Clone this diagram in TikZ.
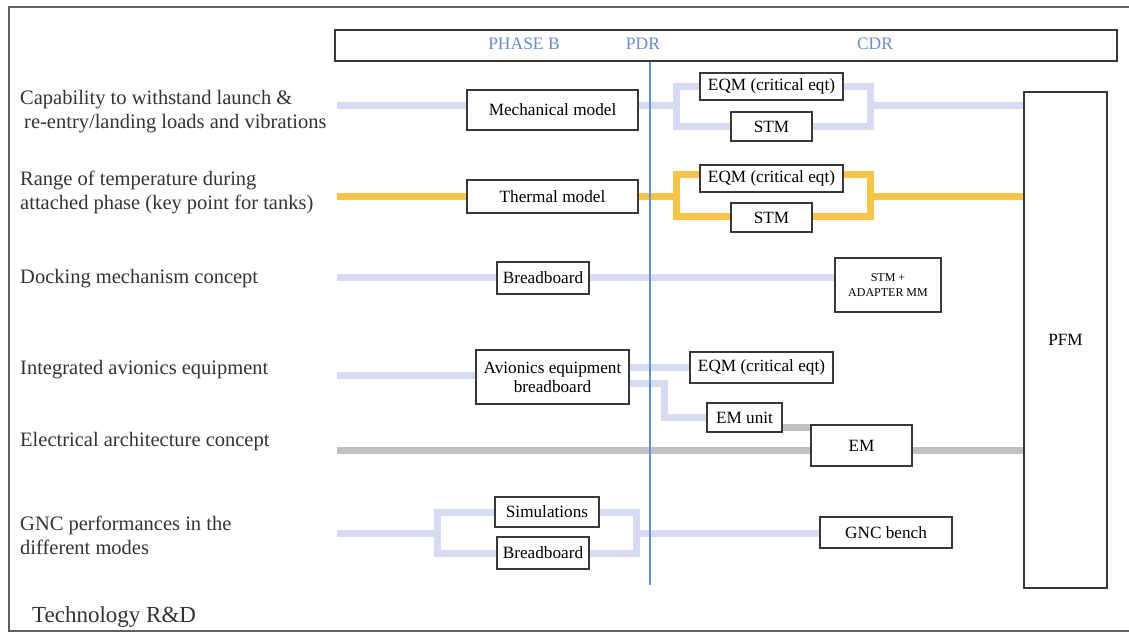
\documentclass[tikz,border=0pt]{standalone}
\usepackage{fontspec}
\setmainfont{Liberation Serif}
\usepackage{tikz}
\usetikzlibrary{positioning,calc,backgrounds}
\definecolor{lavline}{RGB}{214,218,242}
\definecolor{ambline}{RGB}{247,196,72}
\definecolor{greyline}{RGB}{192,192,198}
\definecolor{pdrblue}{RGB}{95,145,225}
\definecolor{hdrblue}{RGB}{105,140,205}
\definecolor{boxgrey}{RGB}{55,55,60}
\newcommand{\boxfont}{\fontsize{17.2}{19}\selectfont}
\newcommand{\lblfont}{\fontsize{20.5}{24}\selectfont}

\begin{document}
\begin{tikzpicture}[x=1pt,y=-1pt,
box/.style={draw=boxgrey,line width=1.6,fill=white,inner sep=0pt,align=center,font=\boxfont},
lbl/.style={anchor=west,align=left,inner sep=0pt,font=\lblfont,text=black!80},
hdr/.style={font=\fontsize{17.5}{19}\selectfont,text=hdrblue},
lav/.style={lavline,line width=7},amb/.style={ambline,line width=7},
gry/.style={greyline,line width=7}]
\useasboundingbox (0,0) rectangle (1129,635);
% frame and header
\draw[boxgrey!80,line width=1.2] (1129,7) -- (9,7) -- (9,631) -- (1129,631);
\node[box,minimum width=782,minimum height=31] (head) at (726,45.5) {};
\node[hdr] (phb) at (524,44) {PHASE B};
\node[hdr] (pdr) at (643,44) {PDR};
\node[hdr] (cdr) at (875,44) {CDR};
\node[box,minimum width=83,minimum height=496] (pfm) at (1065.5,340) {PFM};
% left labels
\node[lbl] (l1) at (20,112) {Capability to withstand launch \&\\\hspace*{4pt}re-entry/landing loads and vibrations};
\node[lbl] (l2) at (20,192) {Range of temperature during\\attached phase (key point for tanks)};
\node[lbl] (l3) at (20,279) {Docking mechanism concept};
\node[lbl] (l4) at (20,370) {Integrated avionics equipment};
\node[lbl] (l5) at (20,442) {Electrical architecture concept};
\node[lbl] (l6) at (20,535) {GNC performances in the\\different modes};
\node[lbl,font=\fontsize{23}{26}\selectfont] (tech) at (32,617) {Technology R\&D};
% models
\node[box,minimum width=171,minimum height=40] (mech) at (552.5,110) {Mechanical model};
\node[box,minimum width=143,minimum height=27] (eqma) at (771.5,86.5) {EQM (critical eqt)};
\node[box,minimum width=81,minimum height=29] (stma) at (771.5,126.5) {STM};
\node[box,minimum width=171,minimum height=33] (therm) at (552.5,196.5) {Thermal model};
\node[box,minimum width=143,minimum height=27] (eqmb) at (771.5,178.5) {EQM (critical eqt)};
\node[box,minimum width=81,minimum height=29] (stmb) at (771.5,217.5) {STM};
\node[box,minimum width=92,minimum height=32] (bbdock) at (543,278) {Breadboard};
\node[box,minimum width=106,minimum height=54,font=\fontsize{12}{15}\selectfont] (adapt) at (888,285) {STM +\\ADAPTER MM};
\node[box,minimum width=153,minimum height=54] (avio) at (552.5,377) {Avionics equipment\\breadboard};
\node[box,minimum width=143,minimum height=31] (eqmc) at (761.5,367.5) {EQM (critical eqt)};
\node[box,minimum width=75,minimum height=29] (emu) at (744.5,417.5) {EM unit};
\node[box,minimum width=101,minimum height=41] (em) at (861.5,445.5) {EM};
\node[box,minimum width=104,minimum height=30] (sim) at (547,512) {Simulations};
\node[box,minimum width=92,minimum height=32] (bbgnc) at (543,553) {Breadboard};
\node[box,minimum width=132,minimum height=31] (gnc) at (886,532.5) {GNC bench};
\begin{scope}[on background layer]
\coordinate (in1) at (337,105); \coordinate (sa) at (676,105); \coordinate (ja) at (870,105);
\draw[lav] (in1) -- (in1 -| mech.west);
\draw[lav] (mech.east |- sa) -- (sa) |- (eqma) -| (ja) -- (ja -| pfm.west);
\draw[lav] (sa) |- (stma) -| (ja);
\coordinate (in2) at (337,196); \coordinate (sb) at (676,196); \coordinate (jb) at (870,196);
\draw[amb] (in2) -- (in2 -| therm.west);
\draw[amb] (therm.east |- sb) -- (sb) |- ([yshift=4]eqmb.center) -| (jb) -- (jb -| pfm.west);
\draw[amb] (sb) |- ([yshift=1.5]stmb.center) -| (jb);
\coordinate (in3) at (337,277);
\draw[lav] (in3) -- (in3 -| bbdock.west);
\draw[lav] (bbdock.east |- in3) -- (in3 -| adapt.west);
\coordinate (in4) at (337,375); \coordinate (k4) at (664,383);
\draw[lav] (in4) -- (in4 -| avio.west);
\draw[lav] (avio.east |- eqmc) -- (eqmc.west);
\draw[lav] (avio.east |- k4) -- (k4) |- (emu.west);
\draw[gry] ([yshift=-10]emu.east) -- ([yshift=-10]emu.east -| em.west);
\coordinate (in5) at (337,450);
\draw[gry] (in5) -- (in5 -| em.west);
\draw[gry] (em.east |- in5) -- (in5 -| pfm.west);
\coordinate (in6) at (337,533); \coordinate (sf) at (437,533); \coordinate (jf) at (636,533);
\draw[lav] (in6) -- (sf) |- (sim) -| (jf) -- (jf -| gnc.west);
\draw[lav] (sf) |- (bbgnc) -| (jf);
\end{scope}
% PDR milestone
\coordinate (pdrend) at (650,585);
\draw[pdrblue,line width=1.2] (pdrend |- head.south) -- (pdrend);
\end{tikzpicture}
\end{document}
